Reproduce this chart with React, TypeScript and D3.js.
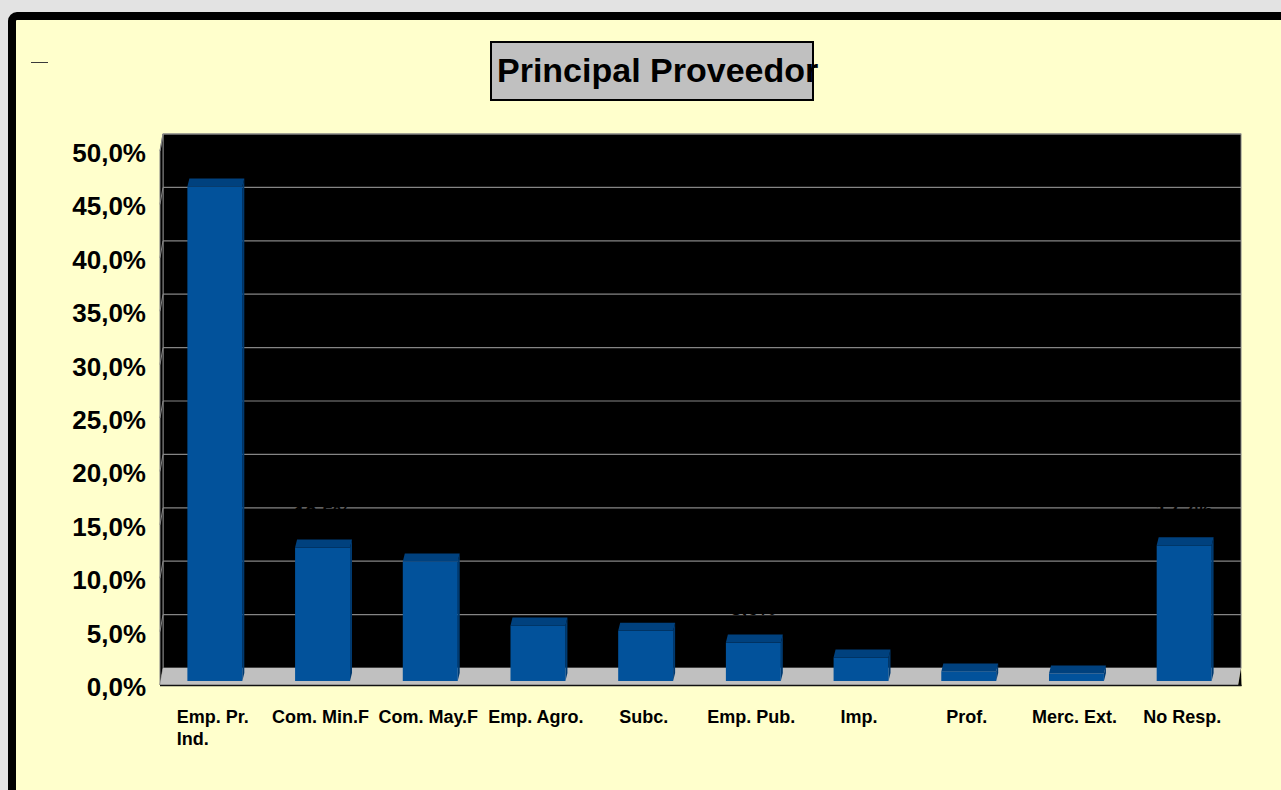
import React from "react";
import * as d3 from "d3";

const categories = ["Emp. Pr. Ind.", "Com. Min.F", "Com. May.F", "Emp. Agro.", "Subc.", "Emp. Pub.", "Imp.", "Prof.", "Merc. Ext.", "No Resp."];
const categoryLines = [["Emp. Pr.", "Ind."], ["Com. Min.F"], ["Com. May.F"], ["Emp. Agro."], ["Subc."], ["Emp. Pub."], ["Imp."], ["Prof."], ["Merc. Ext."], ["No Resp."]];
const values = [46.3, 12.5, 11.2, 5.2, 4.7, 3.6, 2.2, 0.9, 0.7, 12.7];
const yTicks = [0, 5, 10, 15, 20, 25, 30, 35, 40, 45, 50];
const title = "Principal Proveedor";

const W = 1281;
const H = 790;
const FONT = "'Liberation Sans', Arial, sans-serif";

// 3D geometry
const backLeft = 163;
const backRight = 1241;
const depthDx = -3;
const depthDy = 17;
const barDx = 2;
const barDy = 8;

function measure(text: string, font: string): number {
  if (typeof document === "undefined") return text.length * 9;
  const c = document.createElement("canvas");
  const ctx = c.getContext("2d");
  if (!ctx) return text.length * 9;
  ctx.font = font;
  return ctx.measureText(text).width;
}

const fmt = (v: number) => v.toFixed(1).replace(".", ",") + "%";

export default function App() {
  const yBack = d3.scaleLinear().domain([0, 50]).range([668, 134]);
  const yFront = (v: number) => yBack(v) + depthDy;
  const x = d3
    .scaleBand<string>()
    .domain(categories)
    .range([backLeft + depthDx + 1, backRight + depthDx])
    .paddingInner(0.49)
    .paddingOuter(0.245);
  const bw = x.bandwidth();
  const barBase = 13; // front face bottom offset below back-wall zero

  const labelFont = `bold 18px ${FONT}`;

  return (
    <svg
      width={W}
      height={H}
      style={{ position: "fixed", left: 0, top: 0, display: "block" }}
      xmlns="http://www.w3.org/2000/svg"
    >
      <rect x={0} y={0} width={W} height={H} fill="#e3e3e3" />
      <rect x={12} y={16} width={W + 20} height={H + 20} rx={5} fill="#ffffcc" stroke="#000" strokeWidth={8} />
      <line x1={31} x2={48} y1={62.5} y2={62.5} stroke="#3a3a3a" strokeWidth={1} />

      {/* title */}
      <rect x={491} y={42} width={322} height={58} fill="#c0c0c0" stroke="#000" strokeWidth={2} />
      <text x={497} y={82} fontFamily={FONT} fontWeight="bold" fontSize={34} fill="#000">
        {title}
      </text>

      {/* walls */}
      <rect x={backLeft} y={yBack(50)} width={backRight - backLeft} height={yBack(0) - yBack(50)} fill="#000" stroke="#808080" strokeWidth={1} />
      <polygon
        points={`${backLeft + depthDx},${yFront(50)} ${backLeft},${yBack(50)} ${backLeft},${yBack(0)} ${backLeft + depthDx},${yFront(0)}`}
        fill="#000"
        stroke="#808080"
        strokeWidth={1}
      />
      {yTicks.filter((t) => t > 0).map((t) => (
        <g key={"g" + t}>
          <line x1={backLeft} x2={backRight} y1={yBack(t)} y2={yBack(t)} stroke="#858585" strokeWidth={1.2} />
          <line x1={backLeft + depthDx} x2={backLeft} y1={yFront(t)} y2={yBack(t)} stroke="#858585" strokeWidth={1} />
        </g>
      ))}
      {/* floor */}
      <polygon
        points={`${backLeft},${yBack(0)} ${backRight},${yBack(0)} ${backRight + depthDx},${yFront(0)} ${backLeft + depthDx},${yFront(0)}`}
        fill="#c0c0c0"
      />
      <polygon
        points={`${backRight},${yBack(0)} ${backRight + 0.5},${yFront(0) + 1} ${backRight + depthDx},${yFront(0) + 1}`}
        fill="#000"
      />
      <line x1={backLeft + depthDx} x2={backRight + 0.5} y1={yFront(0) + 0.5} y2={yFront(0) + 0.5} stroke="#111" strokeWidth={1.6} />

      {/* bars */}
      {categories.map((c, i) => {
        const v = values[i];
        const x0 = x(c)!;
        const fb = yBack(0) + barBase;
        const ft = yBack(v) + barBase;
        return (
          <g key={c}>
            <polygon
              points={`${x0 + bw},${ft} ${x0 + bw + barDx},${ft - barDy} ${x0 + bw + barDx},${fb - barDy} ${x0 + bw},${fb}`}
              fill="#003a70"
            />
            <rect x={x0} y={ft} width={bw} height={fb - ft} fill="#02529b" />
            <polygon
              points={`${x0},${ft} ${x0 + bw},${ft} ${x0 + bw + barDx},${ft - barDy} ${x0 + barDx},${ft - barDy}`}
              fill="#00417e"
            />
            <text
              x={x0 + bw / 2}
              y={ft - barDy - 20}
              textAnchor="middle"
              fontFamily={FONT}
              fontWeight="bold"
              fontSize={20}
              fill="#000"
            >
              {fmt(v)}
            </text>
          </g>
        );
      })}

      {/* y axis labels */}
      {yTicks.map((t) => (
        <text
          key={"y" + t}
          x={146}
          y={yFront(t) + 11}
          textAnchor="end"
          fontFamily={FONT}
          fontWeight="bold"
          fontSize={26}
          fill="#000"
        >
          {fmt(t)}
        </text>
      ))}

      {/* x axis labels */}
      {categories.map((c, i) => {
        const cx = x(c)! + bw / 2 - 2;
        const lines = categoryLines[i];
        const maxW = Math.max(...lines.map((l) => measure(l, labelFont)));
        return (
          <text key={"x" + c} fontFamily={FONT} fontWeight="bold" fontSize={18} fill="#000">
            {lines.map((l, k) => (
              <tspan key={k} x={lines.length > 1 ? cx - maxW / 2 : cx} y={723 + k * 22} textAnchor={lines.length > 1 ? "start" : "middle"}>
                {l}
              </tspan>
            ))}
          </text>
        );
      })}
    </svg>
  );
}
